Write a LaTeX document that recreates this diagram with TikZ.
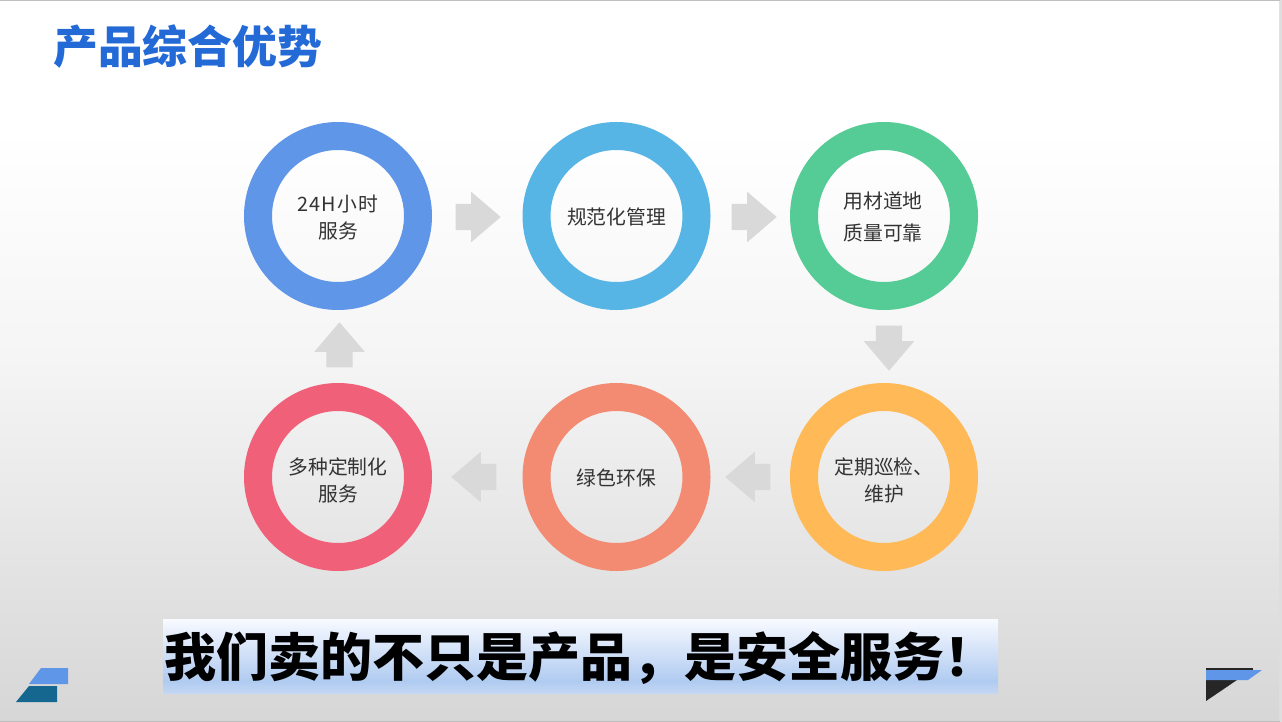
\documentclass[tikz,border=0pt]{standalone}
\usepackage{fontspec}
\setmainfont{Noto Sans CJK SC}
\usetikzlibrary{shapes.arrows}
\definecolor{ringblue}{HTML}{5F96E8}
\definecolor{ringsky}{HTML}{56B5E5}
\definecolor{ringgreen}{HTML}{55CB95}
\definecolor{ringorange}{HTML}{FFB957}
\definecolor{ringsalmon}{HTML}{F38A72}
\definecolor{ringred}{HTML}{F06079}
\definecolor{titleblue}{HTML}{236AD6}
\definecolor{teal}{HTML}{15678F}
\definecolor{arrowgrey}{HTML}{D9D9D9}
\definecolor{slogantop}{HTML}{F8FAFF}
\definecolor{sloganmid}{HTML}{B0CBF1}
\definecolor{sloganend}{HTML}{C4D7F3}
\pgfdeclareverticalshading{slideback}{100bp}{color(0bp)=(white!84!black);color(25bp)=(white!84!black);color(50bp)=(white!96!black);color(66bp)=(white);color(100bp)=(white)}
\pgfdeclareverticalshading{sloganback}{100bp}{color(0bp)=(sloganend);color(25bp)=(sloganend);color(33bp)=(sloganmid);color(75bp)=(slogantop);color(100bp)=(slogantop)}
\tikzset{
ring/.style={circle,draw=#1,line width=28pt,minimum size=160pt,inner sep=0},
ringtext/.style={inner sep=0,align=center,font=\fontsize{19.8pt}{27pt}\selectfont,text=black!80},
blockarr/.style={single arrow,fill=arrowgrey,draw=none,inner sep=0,minimum height=45pt,
  minimum width=50pt,single arrow head extend=12pt,single arrow tip angle=81,
  single arrow head indent=0pt,rotate=#1},
}
\newcommand{\shaftbox}{\rule{0pt}{26pt}}
\begin{document}
\begin{tikzpicture}[x=1pt,y=-1pt]
\useasboundingbox (0,0) rectangle (1282,722);
\fill[black!13] (1279,0) rectangle (1282,722);
\shade[shading=slideback] (0,0) rectangle (1279,722);
\draw[black!25] (0,0.5)--(1279.5,0.5);
\draw[black!25] (0,721.5)--(1279.5,721.5);
% title
\node[anchor=west,inner sep=0,text=titleblue,font=\fontsize{44.8pt}{50pt}\selectfont\bfseries](title)at(53,47){产品综合优势};
% rings
\node[ring=ringblue](service)at(338,216){};
\node[ring=ringsky](manage)at(616.5,216){};
\node[ring=ringgreen](material)at(884,216){};
\node[ring=ringorange](patrol)at(884,477){};
\node[ring=ringsalmon](green)at(616.5,477){};
\node[ring=ringred](custom)at(338,477){};
% ring labels
\node[ringtext](serviceT)at(338,218){\addfontfeature{LetterSpace=6}24H小时\\服务};
\node[ringtext](manageT)at(616.5,217){规范化管理};
\node[ringtext](materialT)at(883,217){用材道地\\[5pt]质量可靠};
\node[ringtext](patrolT)at(884,480){定期巡检、\\维护};
\node[ringtext](greenT)at(616.5,478){绿色环保};
\node[ringtext](customT)at(338,480){多种定制化\\服务};
% arrows
\node[blockarr=0](arrA)at(470.5,217){\shaftbox};
\node[blockarr=0](arrB)at(746.5,217){\shaftbox};
\node[blockarr=-90](arrC)at(889,340.5){\shaftbox};
\node[blockarr=180](arrD)at(755.5,477){\shaftbox};
\node[blockarr=180](arrE)at(481.5,477){\shaftbox};
\node[blockarr=90](arrF)at(339.5,352.5){\shaftbox};
% slogan
\shade[shading=sloganback](163,619) rectangle (998,693);
\node[anchor=west,inner sep=0,text=black,font=\fontsize{52pt}{56pt}\selectfont\bfseries](slogan)at(164,658){我们卖的不只是产品，是安全服务！};
% corner marks
\fill[ringblue](29,684)--(41,668)--(68,668)--(68,684)--cycle;
\fill[teal](16,702)--(29,686)--(57,686)--(57,702)--cycle;
\fill[black!85](1206,668)--(1253,668)--(1253,670)--(1206,670)--cycle;
\fill[black!85](1206,680)--(1237,680)--(1206,701)--cycle;
\fill[ringblue](1206,670)--(1262,670)--(1248,680)--(1206,680)--cycle;
\end{tikzpicture}
\end{document}
